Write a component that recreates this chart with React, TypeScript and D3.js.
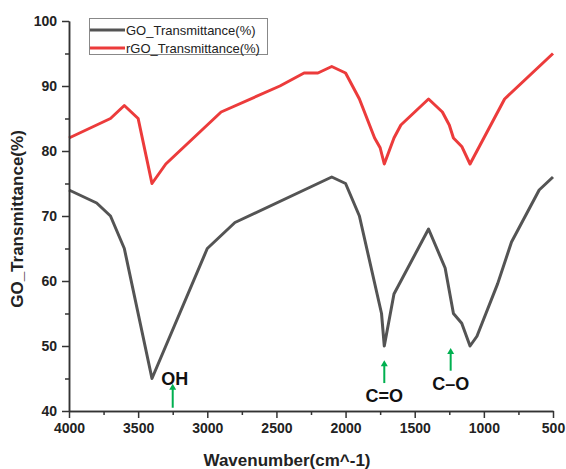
import React, { useEffect, useRef } from 'react';
import * as d3 from 'd3';

const goWavenumber = [4000, 3800, 3700, 3600, 3400, 3000, 2800, 2100, 2000, 1900, 1740, 1720, 1650, 1400, 1280, 1220, 1160, 1100, 1050, 900, 800, 600, 500];
const goTransmittance = [74, 72, 70, 65, 45, 65, 69, 76, 75, 70, 55, 50, 58, 68, 62, 55, 53.5, 50, 51.5, 59.6, 66, 74, 76];

const rgoWavenumber = [4000, 3700, 3600, 3500, 3400, 3300, 2900, 2475, 2300, 2200, 2100, 2000, 1900, 1790, 1750, 1720, 1650, 1600, 1400, 1300, 1250, 1220, 1160, 1100, 850, 500];
const rgoTransmittance = [82, 85, 87, 85, 75, 78, 86, 90, 92, 92, 93, 92, 88, 82, 80.5, 78, 82, 84, 88, 86, 84, 82, 80.7, 78, 88, 95];

const xTicks = [4000, 3500, 3000, 2500, 2000, 1500, 1000, 500];
const xMinorTicks = [3750, 3250, 2750, 2250, 1750, 1250, 750];
const yTicks = [40, 50, 60, 70, 80, 90, 100];
const yMinorTicks = [45, 55, 65, 75, 85, 95];

const seriesNames = ['GO_Transmittance(%)', 'rGO_Transmittance(%)'];

// peak labels: wavenumber, arrow bottom/top (transmittance), label baseline (transmittance)
const peakLabels = ['OH', 'C=O', 'C\u2013O'];
const peakWavenumber = [3250, 1720, 1240];
const peakArrowFrom = [40.5, 44.3, 46.2];
const peakArrowTo = [44.2, 47.8, 49.7];
const peakTextAt = [44.0, 41.4, 43.2];
const peakTextDx = [2, 0, 0];

const FONT = '"Liberation Sans", Arial, sans-serif';

const App = () => {
  const svgRef = useRef<SVGSVGElement>(null);

  useEffect(() => {
    const W = 566;
    const H = 469;
    const margin = { top: 21, right: 13, bottom: 58, left: 69 };
    const width = W - margin.left - margin.right;
    const height = H - margin.top - margin.bottom;

    const root = d3.select(svgRef.current);
    root.selectAll('*').remove();
    root.attr('width', W).attr('height', H);

    const svg = root.append('g')
      .attr('transform', `translate(${margin.left},${margin.top})`);

    const x = d3.scaleLinear().domain([4000, 500]).range([0, width]);
    const y = d3.scaleLinear().domain([40, 100]).range([height, 0]);

    const line = d3.line<[number, number]>()
      .x(d => x(d[0]))
      .y(d => y(d[1]));

    const go = goWavenumber.map((w, i) => [w, goTransmittance[i]] as [number, number]);
    const rgo = rgoWavenumber.map((w, i) => [w, rgoTransmittance[i]] as [number, number]);

    svg.append('path')
      .datum(rgo)
      .attr('fill', 'none')
      .attr('stroke', '#ec3b3b')
      .attr('stroke-width', 3)
      .attr('stroke-linejoin', 'round')
      .attr('d', line);

    svg.append('path')
      .datum(go)
      .attr('fill', 'none')
      .attr('stroke', '#545454')
      .attr('stroke-width', 3)
      .attr('stroke-linejoin', 'round')
      .attr('d', line);

    // axes
    const xAxis = svg.append('g')
      .attr('transform', `translate(0,${height})`)
      .call(d3.axisBottom(x).tickValues(xTicks).tickSize(7).tickSizeOuter(0).tickPadding(5).tickFormat(d3.format('d')));
    svg.append('g')
      .attr('transform', `translate(0,${height})`)
      .call(d3.axisBottom(x).tickValues(xMinorTicks).tickSize(4).tickSizeOuter(0).tickFormat(() => ''));

    const yAxis = svg.append('g')
      .call(d3.axisLeft(y).tickValues(yTicks).tickSize(7).tickSizeOuter(0).tickPadding(5).tickFormat(d3.format('d')));
    svg.append('g')
      .call(d3.axisLeft(y).tickValues(yMinorTicks).tickSize(4).tickSizeOuter(0).tickFormat(() => ''));

    svg.selectAll('.domain, .tick line')
      .attr('stroke', '#333')
      .attr('stroke-width', 1.5);

    xAxis.selectAll('text')
      .attr('font-family', FONT)
      .attr('font-weight', 'bold')
      .attr('font-size', 14)
      .attr('fill', '#222');
    yAxis.selectAll('text')
      .attr('font-family', FONT)
      .attr('font-weight', 'bold')
      .attr('font-size', 14)
      .attr('fill', '#222');

    // axis titles
    root.append('text')
      .attr('x', 287)
      .attr('y', 466)
      .attr('text-anchor', 'middle')
      .attr('font-family', FONT)
      .attr('font-weight', 'bold')
      .attr('font-size', 17)
      .attr('fill', '#222')
      .text('Wavenumber(cm^-1)');

    root.append('text')
      .attr('transform', 'translate(23,219) rotate(-90)')
      .attr('text-anchor', 'middle')
      .attr('font-family', FONT)
      .attr('font-weight', 'bold')
      .attr('font-size', 17)
      .attr('fill', '#222')
      .text('GO_Transmittance(%)');

    // peak annotations
    const green = '#00b050';
    peakLabels.forEach((label, i) => {
      const px = x(peakWavenumber[i]);
      const y0 = y(peakArrowFrom[i]);
      const y1 = y(peakArrowTo[i]);
      svg.append('line')
        .attr('x1', px).attr('x2', px)
        .attr('y1', y0).attr('y2', y1 + 5)
        .attr('stroke', green)
        .attr('stroke-width', 2);
      svg.append('path')
        .attr('d', `M${px - 3.5},${y1 + 6} L${px},${y1} L${px + 3.5},${y1 + 6} Z`)
        .attr('fill', green);
      svg.append('text')
        .attr('x', px + peakTextDx[i])
        .attr('y', y(peakTextAt[i]))
        .attr('text-anchor', 'middle')
        .attr('font-family', FONT)
        .attr('font-weight', 'bold')
        .attr('font-size', 18)
        .attr('fill', '#111')
        .text(label);
    });

    // legend
    const legend = root.append('g');
    legend.append('rect')
      .attr('x', 89.5).attr('y', 18.5)
      .attr('width', 178).attr('height', 36)
      .attr('fill', '#fff')
      .attr('stroke', '#888')
      .attr('stroke-width', 1);
    const colors = ['#545454', '#ec3b3b'];
    seriesNames.forEach((name, i) => {
      const ly = 30 + i * 18;
      legend.append('line')
        .attr('x1', 90).attr('x2', 125)
        .attr('y1', ly).attr('y2', ly)
        .attr('stroke', colors[i])
        .attr('stroke-width', 3);
      legend.append('text')
        .attr('x', 126)
        .attr('y', ly + 4.5)
        .attr('font-family', FONT)
        .attr('font-size', 13)
        .attr('fill', '#222')
        .text(name);
    });
  }, []);

  return (
    <svg ref={svgRef} style={{ position: 'absolute', left: 0, top: 0 }}></svg>
  );
};

export default App;
